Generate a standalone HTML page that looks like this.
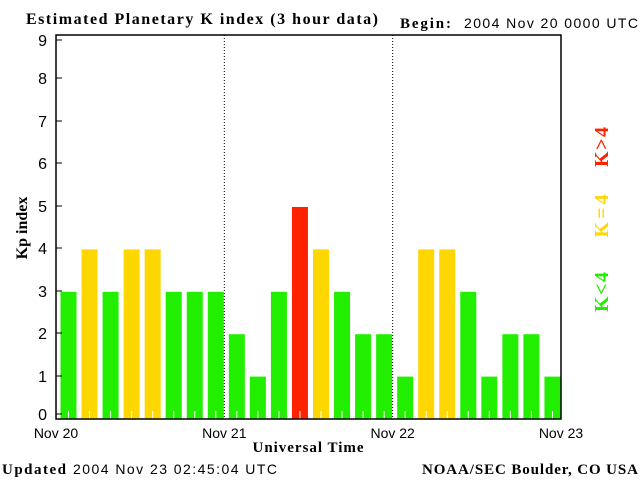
<!DOCTYPE html>
<html><head><meta charset="utf-8"><style>
body{margin:0;background:#fff}
svg{display:block;font-family:"Liberation Serif",serif}
</style></head><body>
<svg width="640" height="480" viewBox="0 0 640 480">
<text x="26" y="24" font-size="16" font-weight="bold" textLength="352" lengthAdjust="spacing">Estimated Planetary K index (3 hour data)</text>
<text x="400" y="28" font-size="15" font-weight="bold" textLength="51">Begin:</text>
<text x="464" y="28" font-size="14" font-family="Liberation Sans,sans-serif" textLength="174">2004 Nov 20 0000 UTC</text>
<g id="plot"></g>
<rect x="56" y="35" width="505" height="384" fill="none" stroke="#000" stroke-width="1.5"/>
<text transform="translate(27,228) rotate(-90)" text-anchor="middle" font-size="16" font-weight="bold">Kp index</text>
<text x="308" y="452" text-anchor="middle" font-size="15" font-weight="bold" textLength="111">Universal Time</text>
<text transform="translate(608,147) rotate(-90)" text-anchor="middle" font-size="20" font-weight="bold" fill="#ff2200" textLength="40">K&gt;4</text>
<text transform="translate(608,216) rotate(-90)" text-anchor="middle" font-size="20" font-weight="bold" fill="#ffd700" textLength="43">K=4</text>
<text transform="translate(608,292) rotate(-90)" text-anchor="middle" font-size="20" font-weight="bold" fill="#22ee00" textLength="40">K&lt;4</text>
<text x="2" y="474" font-size="15" font-weight="bold" textLength="64">Updated</text>
<text x="73" y="474" font-size="14" font-family="Liberation Sans,sans-serif" textLength="204">2004 Nov 23 02:45:04 UTC</text>
<text x="422" y="474" font-size="15" font-weight="bold" textLength="216">NOAA/SEC Boulder, CO USA</text>
</svg>
<script>
const kpValues=[3,4,3,4,4,3,3,3,2,1,3,5,4,3,2,2,1,4,4,3,1,2,2,1];
const dayLabels=["Nov 20","Nov 21","Nov 22","Nov 23"];
const yTicks=[0,1,2,3,4,5,6,7,8,9];
const yTickPos=[414,376,333,291,248,206,163,121,78,40];
const NS="http://www.w3.org/2000/svg";
const g=document.getElementById('plot');
const x0=56,slot=505/24,y0=419,unit=42.4;
const yS=v=>y0-v*unit;
function mk(t,a){const e=document.createElementNS(NS,t);for(const k in a)e.setAttribute(k,a[k]);g.appendChild(e);return e;}
kpValues.forEach((v,i)=>{
 const col=v>4?'#ff2200':(v==4?'#ffd700':'#22ee00');
 const r=mk('rect',{x:x0+i*slot+4.5,y:yS(v),width:16,height:y0-yS(v),fill:col});
 
 
 const t=mk('line',{x1:x0+i*slot+12.5,x2:x0+i*slot+12.5,y1:y0-8,y2:y0,stroke:'#fff'});
 
 
});
for(let d=1;d<3;d++){
 const l=mk('line',{x1:x0+d*8*slot,x2:x0+d*8*slot,y1:35,y2:419,stroke:'#000','stroke-dasharray':'1,2'});
 
 
}
yTicks.forEach((v,i)=>{
 const y=yTickPos[i];
 const tk=mk('line',{x1:56,x2:62,y1:y,y2:y,stroke:'#000'});
 
 
 const t=mk('text',{x:47,y:y+6,'text-anchor':'end','font-size':'16','font-family':'Liberation Sans,sans-serif'});
 t.textContent=v;
 
 
});
dayLabels.forEach((s,i)=>{
 const t=mk('text',{x:x0+i*8*slot,y:438,'text-anchor':'middle','font-size':'14','font-family':'Liberation Sans,sans-serif'});
 t.textContent=s;
 
 
});
</script>
</body></html>
